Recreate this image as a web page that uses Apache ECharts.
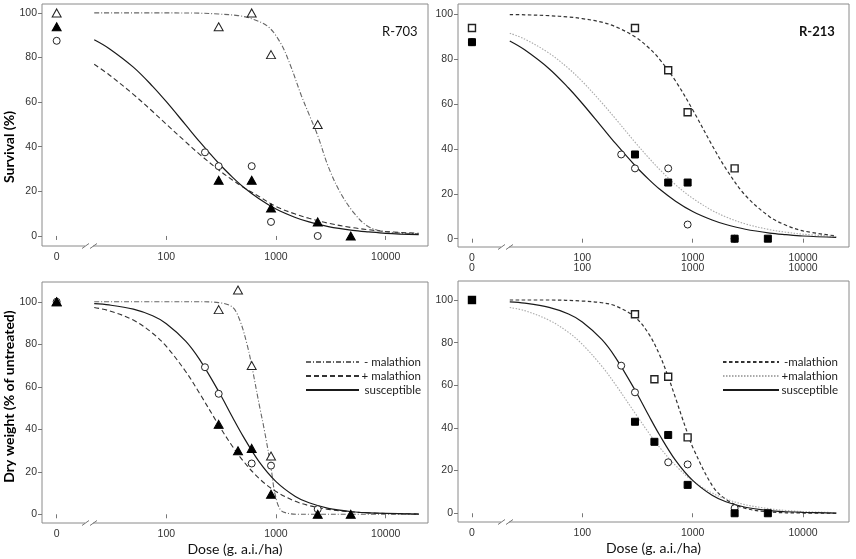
<!DOCTYPE html>
<html>
<head>
<meta charset="utf-8">
<script src="https://cdn.jsdelivr.net/npm/echarts@6/dist/echarts.min.js"></script>
<style>
html, body { margin: 0; padding: 0; background: #fff; }
#chart { width: 856px; height: 559px; }
</style>
</head>
<body>
<div id="chart"></div>
<script>

// untreated (dose 0) is drawn at this spot on the log axis, left of the break
var ZERO_AT = 10;

var xTickValues = [10, 100, 1000, 10000];
var yTickValues = [0, 20, 40, 60, 80, 100];

// ---- observed points (dose in g a.i./ha) ----

// R-703 survival
var r703SurvDoseNoMal = [0, 300, 600, 900, 2400];
var r703SurvNoMal = [100, 93.8, 100, 81.3, 50];
var r703SurvDoseMal = [0, 300, 600, 900, 2400, 4800];
var r703SurvMal = [93.8, 25, 25, 12.5, 6.3, 0];

// R-213 survival
var r213SurvDoseNoMal = [0, 300, 600, 900, 2400];
var r213SurvNoMal = [93.8, 93.8, 75, 56.3, 31.3];
var r213SurvDoseMal = [0, 300, 600, 900, 2400, 4800];
var r213SurvMal = [87.5, 37.5, 25, 25, 0, 0];

// susceptible survival
var suscSurvDose = [0, 225, 300, 600, 900, 2400];
var suscSurv = [87.5, 37.5, 31.3, 31.3, 6.3, 0];

// R-703 dry weight
var r703DryDoseNoMal = [0, 300, 450, 600, 900];
var r703DryNoMal = [100, 96.3, 105.5, 70, 27.4];
var r703DryDoseMal = [0, 300, 450, 600, 900, 2400, 4800];
var r703DryMal = [100, 42.3, 29.9, 31, 9.4, 0, 0];

// R-213 dry weight
var r213DryDoseNoMal = [0, 300, 450, 600, 900];
var r213DryNoMal = [100, 93.3, 62.8, 64, 35.6];
var r213DryDoseMal = [0, 300, 450, 600, 900, 2400, 4800];
var r213DryMal = [100, 42.9, 33.5, 36.7, 13.3, 0, 0];

// susceptible dry weight
var suscDryDose = [0, 225, 300, 600, 900, 2400];
var suscDry = [100, 69.2, 56.7, 23.9, 22.9, 2.4];

// ---- fitted curves ----
var curveDose = [22, 30, 50, 75, 100, 150, 200, 300, 400, 500, 700, 1000, 1500, 2000, 3000, 5000, 7000, 10000, 20000];

var suscSurvCurve = [88.0, 84.1, 75.7, 67.1, 60.2, 49.8, 42.4, 32.6, 26.4, 22.1, 16.7, 12.1, 8.3, 6.3, 4.2, 2.5, 1.8, 1.2, 0.6];
var r703SurvMalCurve = [77.0, 72.3, 63.5, 55.8, 50.1, 42.2, 36.7, 29.6, 25.1, 21.9, 17.7, 13.2, 9.8, 7.9, 5.7, 3.7, 2.8, 2.0, 1.2];
var r703SurvNoMalDose = [22, 100, 200, 300, 450, 590, 840, 1100, 1365, 1700, 2000, 2400, 3000, 3900, 5200, 6800, 9700, 20000];
var r703SurvNoMalCurve = [100, 100, 99.9, 99.5, 98.8, 97.5, 94, 86.5, 76, 63, 54.5, 45, 31, 19, 10, 4.5, 2, 1];

var r213SurvMalCurve = [91.5, 88.9, 82.6, 75.8, 70.0, 60.6, 53.4, 43.0, 36.0, 30.9, 24.0, 18.0, 12.6, 9.7, 6.6, 4.0, 2.9, 2.0, 1.0];
var r213SurvNoMalCurve = [99.8, 99.7, 99.3, 98.7, 98.0, 96.4, 94.4, 89.9, 85.0, 80.0, 70.2, 57.4, 41.6, 31.2, 19.3, 9.7, 6.0, 3.5, 1.2];

var suscDryCurve = [99.1, 98.5, 96.5, 93.4, 89.7, 81.5, 73.0, 57.8, 45.8, 36.8, 24.8, 15.4, 8.4, 5.4, 2.8, 1.2, 0.7, 0.4, 0.1];
var r703DryMalCurve = [97.3, 95.8, 91.4, 85.2, 79.0, 67.2, 57.1, 42.0, 32.0, 25.2, 16.9, 10.7, 6.1, 4.1, 2.3, 1.1, 0.65, 0.4, 0.15];
var r703DryNoMalDose = [22, 100, 200, 300, 400, 470, 550, 600, 700, 780, 900, 975, 1100, 1300, 1600, 2000, 5000, 20000];
var r703DryNoMalCurve = [100, 100, 100, 99.6, 97.5, 91, 79, 70, 52, 40, 22, 10, 2, 0.4, 0, 0, 0, 0];

var r213DryMalCurve = [96.5, 95.0, 90.5, 84.8, 79.2, 69.0, 60.3, 47.0, 37.7, 31.0, 22.4, 15.2, 9.5, 6.7, 4.0, 2.1, 1.3, 0.8, 0.3];
var r213DryNoMalDose = [22, 50, 100, 150, 200, 300, 400, 500, 600, 700, 800, 900, 1000, 1500, 2000, 3000, 5000, 10000, 20000];
var r213DryNoMalCurve = [100, 100, 99.5, 98.7, 97.2, 92.0, 84.1, 74.4, 64, 54.0, 45.0, 37.4, 31.0, 13.1, 6.5, 2.3, 0.6, 0.1, 0];


function pairs(doses, values){
	return doses.map(function(d, i){
		return [d === 0 ? ZERO_AT : d, values[i]];
	});
}

var FONT_TICK = 'Liberation Sans';
var FONT_TEXT = 'Lato';

// panel boxes: tl, tr, bl, br
var panels = [
	{ left: 42, top: 4, width: 386, height: 242, xMin: 7.35, xMax: 24300, yMin: -4.5, yMax: 104, doubleLabels: false },
	{ left: 458, top: 4, width: 391, height: 243, xMin: 7.47, xMax: 26100, yMin: -3.7, yMax: 104.5, doubleLabels: true },
	{ left: 42, top: 282, width: 386, height: 241, xMin: 7.35, xMax: 24300, yMin: -4.1, yMax: 109.3, doubleLabels: false },
	{ left: 458, top: 281, width: 391, height: 241, xMin: 7.47, xMax: 26100, yMin: -4.1, yMax: 108.9, doubleLabels: false }
];

var grids = [], xAxes = [], yAxes = [];

panels.forEach(function(p, i){
	grids.push({
		left: p.left, top: p.top, width: p.width, height: p.height,
		show: true, borderColor: '#8a8a8a', borderWidth: 1,
		containLabel: false, outerBoundsMode: 'none'
	});

	xAxes.push({
		type: 'log', logBase: 10, gridIndex: i,
		min: p.xMin, max: p.xMax,
		axisLine: { show: false },
		splitLine: { show: false },
		minorTick: { show: false },
		axisTick: { show: true, inside: false, length: 4, customValues: xTickValues, lineStyle: { color: '#777' } },
		axisLabel: {
			customValues: xTickValues,
			margin: 6,
			fontFamily: FONT_TICK, fontSize: 10.5, color: '#333', lineHeight: 10,
			formatter: function(v){
				var t = Math.round(v) === ZERO_AT ? '0' : String(Math.round(v));
				return p.doubleLabels ? t + '\n' + t : t;
			}
		},
		name: i >= 2 ? 'Dose (g. a.i./ha)' : '',
		nameLocation: 'middle',
		nameGap: 19,
		nameMoveOverlap: false,
		nameTextStyle: { fontFamily: FONT_TEXT, fontSize: 14, color: '#111' }
	});

	yAxes.push({
		type: 'value', gridIndex: i,
		min: p.yMin, max: p.yMax,
		axisLine: { show: false },
		splitLine: { show: false },
		axisTick: { show: true, inside: false, length: 4, customValues: yTickValues, lineStyle: { color: '#777' } },
		axisLabel: { customValues: yTickValues, margin: 5, fontFamily: FONT_TICK, fontSize: 10.5, color: '#333' },
		name: i === 0 ? 'Survival (%)' : (i === 2 ? 'Dry weight (% of untreated)' : ''),
		nameLocation: 'middle',
		nameRotate: 90,
		nameGap: 26,
		nameMoveOverlap: false,
		nameTextStyle: {
			fontFamily: FONT_TEXT, fontSize: 14, fontWeight: 'bold', color: '#000',
			padding: i === 0 ? [0, 44, 0, 0] : [0, 0, 0, 12]
		}
	});
});

// line looks
var styleSolid = { color: '#1a1a1a', width: 1.2, type: 'solid' };
var style703Mal = { color: '#333', width: 1.1, type: [5, 3] };
var style703NoMal = { color: '#666', width: 1.1, type: [5, 2, 1, 2] };
var style213Mal = { color: '#aaa', width: 1.1, type: [1.5, 1.5] };
var style213NoMal = { color: '#333', width: 1.2, type: [3.5, 2.5] };

function curve(name, panel, doses, values, lineStyle){
	return {
		name: name, type: 'line',
		xAxisIndex: panel, yAxisIndex: panel,
		data: pairs(doses, values),
		symbol: 'none', smooth: 0.35,
		lineStyle: lineStyle,
		itemStyle: { color: lineStyle.color },
		silent: true, z: 2
	};
}

var openMark = { color: '#fff', borderColor: '#222', borderWidth: 1, opacity: 1 };
var openSquare = { color: '#fff', borderColor: '#222', borderWidth: 1.4, opacity: 1 };
var fullMark = { color: '#000', borderColor: '#000', borderWidth: 1, opacity: 1 };

function points(name, panel, doses, values, symbol, size, style){
	return {
		name: name, type: 'scatter',
		xAxisIndex: panel, yAxisIndex: panel,
		data: pairs(doses, values),
		symbol: symbol, symbolSize: size,
		itemStyle: style,
		silent: true, z: 5
	};
}

var series = [
	// R-703 survival
	curve('R-703 - malathion', 0, r703SurvNoMalDose, r703SurvNoMalCurve, style703NoMal),
	curve('R-703 + malathion', 0, curveDose, r703SurvMalCurve, style703Mal),
	curve('R-703 susceptible', 0, curveDose, suscSurvCurve, styleSolid),
	points('susc surv', 0, suscSurvDose, suscSurv, 'circle', 7, openMark),
	points('R-703 -mal surv', 0, r703SurvDoseNoMal, r703SurvNoMal, 'triangle', [9, 8], openMark),
	points('R-703 +mal surv', 0, r703SurvDoseMal, r703SurvMal, 'triangle', [9, 8], fullMark),

	// R-213 survival
	curve('R-213 - malathion', 1, curveDose, r213SurvNoMalCurve, style213NoMal),
	curve('R-213 + malathion', 1, curveDose, r213SurvMalCurve, style213Mal),
	curve('R-213 susceptible', 1, curveDose, suscSurvCurve, styleSolid),
	points('susc surv 2', 1, suscSurvDose, suscSurv, 'circle', 7, openMark),
	points('R-213 -mal surv', 1, r213SurvDoseNoMal, r213SurvNoMal, 'rect', 7, openSquare),
	points('R-213 +mal surv', 1, r213SurvDoseMal, r213SurvMal, 'rect', 7, fullMark),

	// R-703 dry weight
	curve('R-703 - malathion', 2, r703DryNoMalDose, r703DryNoMalCurve, style703NoMal),
	curve('R-703 + malathion', 2, curveDose, r703DryMalCurve, style703Mal),
	curve('R-703 susceptible', 2, curveDose, suscDryCurve, styleSolid),
	points('susc dry', 2, suscDryDose, suscDry, 'circle', 7, openMark),
	points('R-703 -mal dry', 2, r703DryDoseNoMal, r703DryNoMal, 'triangle', [9, 8], openMark),
	points('R-703 +mal dry', 2, r703DryDoseMal, r703DryMal, 'triangle', [9, 8], fullMark),

	// R-213 dry weight
	curve('R-213 - malathion', 3, r213DryNoMalDose, r213DryNoMalCurve, style213NoMal),
	curve('R-213 + malathion', 3, curveDose, r213DryMalCurve, style213Mal),
	curve('R-213 susceptible', 3, curveDose, suscDryCurve, styleSolid),
	points('susc dry 2', 3, suscDryDose, suscDry, 'circle', 7, openMark),
	points('R-213 -mal dry', 3, r213DryDoseNoMal, r213DryNoMal, 'rect', 7, openSquare),
	points('R-213 +mal dry', 3, r213DryDoseMal, r213DryMal, 'rect', 7, fullMark)
];

function legendFor(prefix, left, top, width, textWidth, spaced){
	return {
		orient: 'vertical', left: left, top: top,
		itemWidth: width, itemHeight: 14, itemGap: 2,
		selectedMode: false,
		itemStyle: { opacity: 0 },
		data: [prefix + ' - malathion', prefix + ' + malathion', prefix + ' susceptible'],
		formatter: function(name){
			var t = name.slice(prefix.length + 1);
			if(!spaced) t = t.replace('- ', '-').replace('+ ', '+');
			return '{r|' + t + '}';
		},
		textStyle: {
			rich: { r: { width: textWidth, align: 'right', fontFamily: FONT_TEXT, fontSize: 11.5, color: '#222' } }
		}
	};
}

// axis break marks on the bottom edges, just right of the 0 tick
function breakMark(x, y){
	return [
		{ type: 'rect', shape: { x: x + 3, y: y - 2, width: 8, height: 4 }, style: { fill: '#fff' }, z: 100 },
		{ type: 'line', shape: { x1: x, y1: y + 2.5, x2: x + 7, y2: y - 2.5 }, style: { stroke: '#777', lineWidth: 1 }, z: 101 },
		{ type: 'line', shape: { x1: x + 8, y1: y + 2.5, x2: x + 15, y2: y - 2.5 }, style: { stroke: '#777', lineWidth: 1 }, z: 101 }
	];
}

var option = {
	backgroundColor: '#fff',
	animation: false,
	title: [
		{ text: 'R-703', left: 382, top: 25, padding: 0, textStyle: { fontFamily: FONT_TEXT, fontSize: 13, fontWeight: 'normal', color: '#111' } },
		{ text: 'R-213', left: 799, top: 25, padding: 0, textStyle: { fontFamily: FONT_TEXT, fontSize: 13, fontWeight: 'bold', color: '#111' } }
	],
	grid: grids,
	xAxis: xAxes,
	yAxis: yAxes,
	legend: [
		legendFor('R-703', 300, 351, 53, 57, true),
		legendFor('R-213', 717, 351, 56, 54, false)
	],
	graphic: [].concat(
		breakMark(82, 246),
		breakMark(498, 247),
		breakMark(82, 523),
		breakMark(498, 522)
	),
	series: series
};

var chart = echarts.init(document.getElementById('chart'), null, { renderer: 'canvas' });
chart.setOption(option);

</script>
</body>
</html>
